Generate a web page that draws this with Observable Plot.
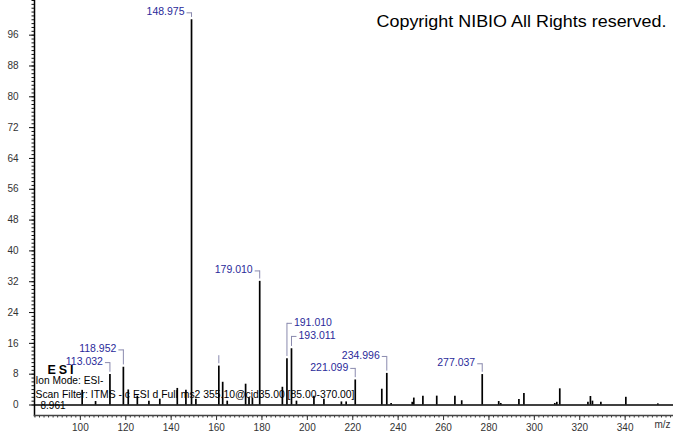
<!DOCTYPE html>
<html><head><meta charset="utf-8">
<script src="https://cdn.jsdelivr.net/npm/d3@7"></script>
<script src="https://cdn.jsdelivr.net/npm/@observablehq/plot@0.6"></script>
<style>body{margin:0;background:#fff}svg{display:block}</style>
</head><body><div id="chart"></div>
<script>
const peakMz = [100.8, 106.7, 113.032, 118.952, 121.1, 125.1, 130.2, 135.0, 142.7, 146.5, 148.975, 150.9, 161.0, 162.7, 164.7, 172.8, 174.3, 175.8, 179.010, 189.0, 191.010, 193.011, 195.2, 202.9, 207.3, 215.0, 217.1, 221.099, 232.8, 234.996, 236.9, 246.2, 246.9, 250.9, 257.0, 265.0, 268.0, 277.037, 284.3, 285.2, 293.2, 295.4, 309.0, 309.9, 311.2, 323.6, 324.7, 325.6, 329.3, 340.3, 354.4];
const peakIntensity = [3.8, 0.9, 7.9, 9.8, 3.9, 2.3, 1.0, 1.5, 4.3, 3.8, 100, 1.5, 10.1, 5.9, 1.0, 5.4, 1.8, 1.8, 32.1, 4.6, 12.0, 14.6, 1.0, 2.3, 1.5, 0.8, 0.8, 6.5, 4.1, 8.2, 0.4, 0.7, 1.8, 2.3, 2.3, 2.3, 1.1, 7.9, 0.9, 0.4, 1.4, 3.0, 0.4, 0.7, 4.2, 0.7, 2.2, 1.0, 0.7, 2.0, 0.3];

const labelMz = [113.032, 118.952, 148.975, 179.010, 191.010, 193.011, 221.099, 234.996, 277.037];
const labelText = ["113.032", "118.952", "148.975", "179.010", "191.010", "193.011", "221.099", "234.996", "277.037"];
const labelLevel = [11.0, 14.3, 101.8, 34.8, 21.2, 17.8, 9.5, 12.6, 10.7];
const labelSide = ["left", "left", "left", "left", "right", "right", "left", "left", "left"];

const hiddenLabelMz = [161.0];
const hiddenLabelLevel = [12.8];

const yMajorTicks = [0, 8, 16, 24, 32, 40, 48, 56, 64, 72, 80, 88, 96];
const xMajorTicks = [100, 120, 140, 160, 180, 200, 220, 240, 260, 280, 300, 320, 340];

const peaks = peakMz.map((mz, i) => ({mz, intensity: peakIntensity[i]}));
const intensityOf = mz => peaks.find(p => Math.abs(p.mz - mz) < 0.01).intensity;
const labels = labelMz.map((mz, i) => ({mz, text: labelText[i], level: labelLevel[i], side: labelSide[i], intensity: intensityOf(mz)}));
const hidden = hiddenLabelMz.map((mz, i) => ({mz, level: hiddenLabelLevel[i], intensity: intensityOf(mz)}));

const connColor = "#8a8aae";
const labelColor = "#2a2a9a";
const font = "'Liberation Sans', Arial, sans-serif";

const chart = Plot.plot({
  width: 673, height: 433,
  marginLeft: 34, marginRight: 0, marginTop: 0, marginBottom: 18,
  style: {fontFamily: font, fontSize: "10px", background: "#fff", color: "#000"},
  x: {domain: [79.8, 361.3]},
  y: {domain: [0, 105], range: [404.5, 0]},
  marks: [
    Plot.axisY(d3.range(0, 106, 1), {tickSize: 2.5, tickFormat: () => "", label: null, stroke: "#111"}),
    Plot.axisY(yMajorTicks, {tickSize: 5, tickPadding: 11, label: null, stroke: "#111", fill: "#333"}),
    Plot.axisX(d3.range(80, 361, 2), {tickSize: 2.5, tickFormat: () => "", label: null, stroke: "#333"}),
    Plot.axisX(xMajorTicks, {tickSize: 5, tickPadding: 3, label: null, stroke: "#333", fill: "#333"}),
    Plot.frame({anchor: "left", stroke: "#000", strokeWidth: 1.5}),
    Plot.frame({anchor: "bottom", stroke: "#444", strokeWidth: 1.5}),
    Plot.ruleY([0], {stroke: "#000", strokeWidth: 1.5}),
    Plot.ruleX(peaks, {x: "mz", y1: 0, y2: "intensity", stroke: "#000", strokeWidth: 1.7}),
    Plot.ruleX(labels, {x: "mz", y1: d => d.intensity + 0.6, y2: "level", stroke: connColor, strokeWidth: 1}),
    Plot.ruleX(hidden, {x: "mz", y1: d => d.intensity + 0.6, y2: "level", stroke: connColor, strokeWidth: 1}),
    Plot.link(labels, {x1: d => d.side === "left" ? d.mz - 2.2 : d.mz + 2.2, x2: "mz", y1: "level", y2: "level", stroke: connColor, strokeWidth: 1}),
    Plot.text(labels.filter(d => d.side === "left"), {x: "mz", y: "level", text: "text", dx: -7, dy: -1, textAnchor: "end", fill: labelColor, fontSize: 10.5}),
    Plot.text(labels.filter(d => d.side === "right"), {x: "mz", y: "level", text: "text", dx: 7, dy: -0.5, textAnchor: "start", fill: labelColor, fontSize: 10.5}),
    Plot.text(["Copyright NIBIO All Rights reserved."], {text: d => d, frameAnchor: "top-right", dx: -7, dy: 14, fontSize: 17, textAnchor: "end", fill: "#000"}),
    Plot.text(["m/z"], {text: d => d, frameAnchor: "bottom-right", dx: -3, dy: 12, textAnchor: "end", fill: "#333", fontSize: 10}),
    Plot.text(["ESI"], {text: d => d, frameAnchor: "bottom-left", dx: 13, dy: -42, textAnchor: "start", fontWeight: "bold", fontSize: 12.5, fill: "#000"}),
    Plot.text(["Ion Mode: ESI-"], {text: d => d, frameAnchor: "bottom-left", dx: 1, dy: -31.5, textAnchor: "start", fontSize: 10.2, fill: "#000"}),
    Plot.text(["Scan Filter: ITMS - c ESI d Full ms2 355.10@cid35.00 [85.00-370.00]"], {text: d => d, frameAnchor: "bottom-left", dx: 1, dy: -18, textAnchor: "start", fontSize: 10.2, fill: "#000"}),
    Plot.text(["8.961"], {text: d => d, frameAnchor: "bottom-left", dx: 6, dy: -6.5, textAnchor: "start", fontSize: 10, fill: "#000"})
  ]
});
document.getElementById("chart").appendChild(chart);
d3.select(chart).selectAll("text").each(function() {
  const t = this.textContent;
  if (t.startsWith("Scan Filter")) {
    this.setAttribute("textLength", 319);
    this.setAttribute("lengthAdjust", "spacingAndGlyphs");
  } else if (t === "ESI") {
    this.setAttribute("textLength", 26);
    this.setAttribute("lengthAdjust", "spacing");
  } else if (t.startsWith("Copyright")) {
    this.setAttribute("textLength", 290);
    this.setAttribute("lengthAdjust", "spacingAndGlyphs");
  }
});
</script>
</body></html>
